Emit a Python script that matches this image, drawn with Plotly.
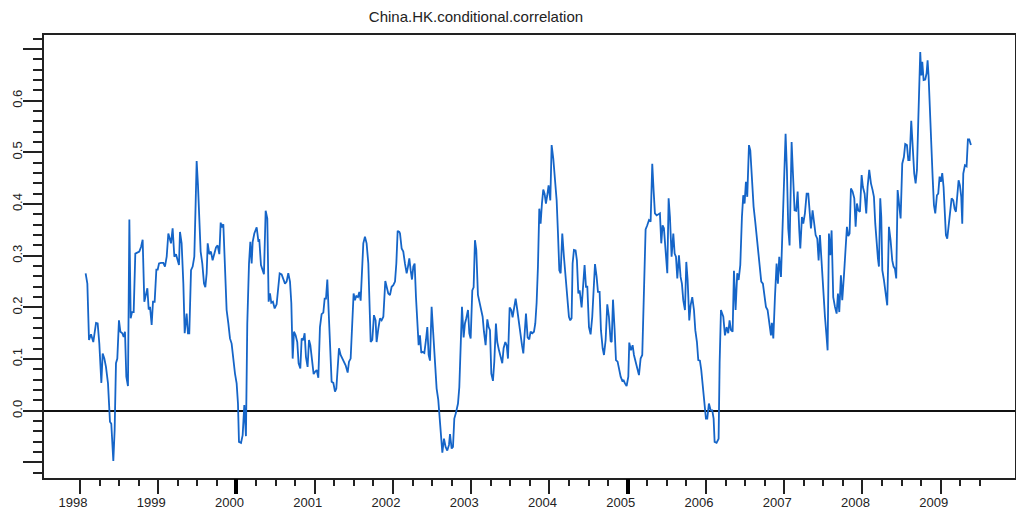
import plotly.graph_objects as go

title_text = "China.HK.conditional.correlation"

# decimal years of each observation
years = [
    1998.072, 1998.094, 1998.115, 1998.141, 1998.170, 1998.205, 1998.226, 1998.247, 1998.273, 1998.290,
    1998.311, 1998.332, 1998.358, 1998.383, 1998.400, 1998.426, 1998.443, 1998.460, 1998.477, 1998.498,
    1998.516, 1998.541, 1998.558, 1998.575, 1998.592, 1998.613, 1998.631, 1998.648, 1998.665, 1998.686,
    1998.707, 1998.733, 1998.758, 1998.780, 1998.801, 1998.822, 1998.839, 1998.861, 1998.878, 1998.895,
    1998.916, 1998.933, 1998.954, 1998.976, 1998.993, 1999.010, 1999.035, 1999.065, 1999.086, 1999.108,
    1999.129, 1999.150, 1999.163, 1999.184, 1999.206, 1999.227, 1999.248, 1999.265, 1999.278, 1999.299,
    1999.321, 1999.338, 1999.363, 1999.380, 1999.397, 1999.419, 1999.440, 1999.461, 1999.478, 1999.491,
    1999.508, 1999.525, 1999.542, 1999.563, 1999.585, 1999.602, 1999.619, 1999.632, 1999.653, 1999.674,
    1999.695, 1999.717, 1999.738, 1999.759, 1999.781, 1999.798, 1999.815, 1999.832, 1999.853, 1999.874,
    1999.896, 1999.917, 1999.938, 1999.960, 1999.981, 2000.002, 2000.019, 2000.032,
    2000.058, 2000.079, 2000.100, 2000.121, 2000.138, 2000.160, 2000.177, 2000.194, 2000.207, 2000.228,
    2000.258, 2000.279, 2000.292, 2000.313, 2000.330, 2000.351, 2000.373, 2000.394, 2000.411, 2000.428,
    2000.445, 2000.466, 2000.488, 2000.513, 2000.535, 2000.552, 2000.577, 2000.599, 2000.620, 2000.641,
    2000.662, 2000.684, 2000.701, 2000.718, 2000.735, 2000.756, 2000.777, 2000.794, 2000.816, 2000.833,
    2000.854, 2000.871, 2000.888, 2000.909, 2000.927, 2000.944, 2000.965, 2000.986, 2001.003, 2001.025,
    2001.046, 2001.067, 2001.088, 2001.110, 2001.127, 2001.144, 2001.161, 2001.178, 2001.195, 2001.216,
    2001.238, 2001.259, 2001.276, 2001.293, 2001.310, 2001.331, 2001.353, 2001.374, 2001.395, 2001.421,
    2001.438, 2001.459, 2001.480, 2001.497, 2001.514, 2001.531, 2001.553, 2001.570, 2001.587, 2001.604,
    2001.621, 2001.642, 2001.663, 2001.685, 2001.706, 2001.715, 2001.736, 2001.757, 2001.778, 2001.791,
    2001.813, 2001.834, 2001.855, 2001.877, 2001.902, 2001.923, 2001.940, 2001.962, 2001.983, 2002.004,
    2002.026, 2002.043, 2002.060, 2002.081,
    2002.090, 2002.111, 2002.132, 2002.153, 2002.175, 2002.192, 2002.209, 2002.226, 2002.243, 2002.260,
    2002.277, 2002.294, 2002.311, 2002.328, 2002.345, 2002.362, 2002.379, 2002.401, 2002.422, 2002.439,
    2002.456, 2002.473, 2002.494, 2002.516, 2002.537, 2002.558, 2002.579, 2002.601, 2002.631, 2002.652,
    2002.673, 2002.694, 2002.716, 2002.729, 2002.750, 2002.767, 2002.784, 2002.805, 2002.831, 2002.848,
    2002.869, 2002.882, 2002.903, 2002.920, 2002.937, 2002.959, 2002.976, 2002.993, 2003.014, 2003.031,
    2003.048, 2003.065, 2003.086, 2003.103, 2003.125, 2003.146, 2003.163, 2003.184, 2003.206, 2003.223,
    2003.240, 2003.257, 2003.278, 2003.295, 2003.316, 2003.333, 2003.355, 2003.376, 2003.397, 2003.414,
    2003.436, 2003.453, 2003.470, 2003.491, 2003.512, 2003.529, 2003.551, 2003.568, 2003.589, 2003.610,
    2003.627, 2003.649, 2003.666, 2003.683, 2003.700, 2003.721, 2003.742, 2003.759, 2003.781, 2003.802,
    2003.819, 2003.836, 2003.853, 2003.870, 2003.887, 2003.904, 2003.921, 2003.938, 2003.955, 2003.972,
    2003.989, 2004.011, 2004.028, 2004.049, 2004.070, 2004.092, 2004.109, 2004.126,
    2004.143, 2004.164, 2004.185, 2004.207, 2004.228, 2004.249, 2004.266, 2004.283, 2004.296, 2004.313,
    2004.334, 2004.351, 2004.369, 2004.386, 2004.411, 2004.428, 2004.449, 2004.467, 2004.484, 2004.505,
    2004.526, 2004.547, 2004.564, 2004.582, 2004.603, 2004.620, 2004.641, 2004.658, 2004.680, 2004.697,
    2004.718, 2004.739, 2004.760, 2004.782, 2004.795, 2004.812, 2004.833, 2004.850, 2004.871, 2004.888,
    2004.910, 2004.931, 2004.948, 2004.965, 2004.986, 2005.008, 2005.020, 2005.042, 2005.063, 2005.080,
    2005.101, 2005.123, 2005.144, 2005.165, 2005.186, 2005.208, 2005.229, 2005.250, 2005.272, 2005.293,
    2005.314, 2005.331, 2005.348, 2005.370, 2005.391, 2005.412, 2005.429, 2005.446, 2005.463, 2005.485,
    2005.506, 2005.523, 2005.540, 2005.561, 2005.583, 2005.600, 2005.617, 2005.634, 2005.655, 2005.676,
    2005.693, 2005.710, 2005.732, 2005.749, 2005.766, 2005.787, 2005.804, 2005.825, 2005.847, 2005.864,
    2005.885, 2005.902, 2005.923, 2005.940, 2005.957, 2005.979, 2006.000, 2006.017, 2006.038, 2006.060,
    2006.081, 2006.098, 2006.111, 2006.136, 2006.162, 2006.175,
    2006.192, 2006.222, 2006.243, 2006.264, 2006.285, 2006.302, 2006.320, 2006.341, 2006.358, 2006.379,
    2006.400, 2006.418, 2006.439, 2006.460, 2006.477, 2006.494, 2006.511, 2006.528, 2006.550, 2006.567,
    2006.588, 2006.609, 2006.630, 2006.652, 2006.673, 2006.690, 2006.707, 2006.728, 2006.746, 2006.767,
    2006.788, 2006.809, 2006.831, 2006.843, 2006.861, 2006.882, 2006.903, 2006.920, 2006.937, 2006.959,
    2006.971, 2006.988, 2007.005, 2007.018, 2007.035, 2007.052, 2007.069, 2007.082, 2007.095, 2007.112,
    2007.133, 2007.154, 2007.172, 2007.193, 2007.206, 2007.227, 2007.244, 2007.265, 2007.287, 2007.308,
    2007.329, 2007.342, 2007.363, 2007.380, 2007.402, 2007.423, 2007.440, 2007.457, 2007.478, 2007.500,
    2007.521, 2007.542, 2007.555, 2007.572, 2007.589, 2007.606, 2007.627, 2007.649, 2007.670, 2007.687,
    2007.704, 2007.725, 2007.742, 2007.764, 2007.785, 2007.802, 2007.819, 2007.836, 2007.853, 2007.874,
    2007.896, 2007.913, 2007.930, 2007.947, 2007.968, 2007.990, 2008.006, 2008.028, 2008.049, 2008.066,
    2008.087, 2008.109, 2008.130, 2008.147, 2008.164, 2008.181, 2008.198, 2008.211, 2008.228, 2008.241,
    2008.254, 2008.275, 2008.296, 2008.317, 2008.339,
    2008.360, 2008.381, 2008.398, 2008.415, 2008.432, 2008.450, 2008.471, 2008.488, 2008.509, 2008.530,
    2008.547, 2008.569, 2008.586, 2008.603, 2008.624, 2008.645, 2008.662, 2008.680, 2008.697, 2008.714,
    2008.726, 2008.739, 2008.752, 2008.765, 2008.782, 2008.803, 2008.820, 2008.833, 2008.846, 2008.863,
    2008.880, 2008.897, 2008.914, 2008.931, 2008.952, 2008.969, 2008.986, 2009.003, 2009.020, 2009.037,
    2009.054, 2009.067, 2009.084, 2009.101, 2009.118, 2009.140, 2009.161, 2009.178, 2009.195, 2009.212,
    2009.229, 2009.246, 2009.263, 2009.276, 2009.289, 2009.310, 2009.331, 2009.348, 2009.365, 2009.387,
]

# conditional correlation values
corr = [
    0.266, 0.246, 0.137, 0.148, 0.133, 0.170, 0.169, 0.130, 0.054, 0.111,
    0.101, 0.085, 0.053, -0.021, -0.025, -0.097, -0.037, 0.092, 0.101, 0.175,
    0.153, 0.150, 0.143, 0.153, 0.066, 0.048, 0.370, 0.179, 0.191, 0.191,
    0.304, 0.306, 0.308, 0.317, 0.331, 0.211, 0.224, 0.237, 0.196, 0.201,
    0.166, 0.211, 0.211, 0.273, 0.273, 0.285, 0.286, 0.286, 0.279, 0.298,
    0.343, 0.333, 0.324, 0.353, 0.298, 0.303, 0.291, 0.282, 0.346, 0.324,
    0.246, 0.150, 0.188, 0.150, 0.150, 0.272, 0.279, 0.298, 0.401, 0.483,
    0.436, 0.375, 0.308, 0.285, 0.246, 0.239, 0.266, 0.324, 0.303, 0.308,
    0.291, 0.304, 0.316, 0.320, 0.303, 0.364, 0.355, 0.361, 0.285, 0.195,
    0.169, 0.140, 0.130, 0.092, 0.072, 0.053, 0.014, -0.060,
    -0.062, -0.047, 0.011, -0.049, 0.169, 0.285, 0.327, 0.285, 0.327, 0.343,
    0.355, 0.329, 0.330, 0.282, 0.275, 0.264, 0.387, 0.372, 0.211, 0.227,
    0.209, 0.211, 0.198, 0.206, 0.240, 0.266, 0.264, 0.254, 0.246, 0.250,
    0.266, 0.250, 0.208, 0.101, 0.153, 0.146, 0.133, 0.092, 0.082, 0.140,
    0.137, 0.150, 0.104, 0.085, 0.137, 0.127, 0.098, 0.071, 0.075, 0.079,
    0.064, 0.162, 0.187, 0.190, 0.217, 0.217, 0.254, 0.201, 0.137, 0.056,
    0.054, 0.037, 0.043, 0.085, 0.121, 0.108, 0.101, 0.095, 0.088, 0.074,
    0.095, 0.101, 0.172, 0.227, 0.214, 0.222, 0.220, 0.230, 0.213, 0.272,
    0.324, 0.337, 0.324, 0.285, 0.201, 0.133, 0.137, 0.185, 0.175, 0.133,
    0.159, 0.179, 0.175, 0.182, 0.251, 0.240, 0.227, 0.224, 0.240, 0.243,
    0.250, 0.285, 0.348, 0.346,
    0.343, 0.314, 0.308, 0.285, 0.266, 0.279, 0.295, 0.272, 0.254, 0.279,
    0.285, 0.220, 0.175, 0.127, 0.146, 0.112, 0.114, 0.112, 0.137, 0.162,
    0.108, 0.097, 0.201, 0.150, 0.098, 0.043, 0.021, -0.031, -0.081, -0.054,
    -0.070, -0.077, -0.066, -0.045, -0.073, -0.070, -0.015, -0.004, 0.014, 0.046,
    0.143, 0.201, 0.142, 0.169, 0.179, 0.195, 0.150, 0.140, 0.233, 0.239,
    0.330, 0.311, 0.224, 0.211, 0.198, 0.182, 0.153, 0.127, 0.177, 0.162,
    0.156, 0.072, 0.058, 0.095, 0.169, 0.133, 0.117, 0.106, 0.092, 0.121,
    0.133, 0.127, 0.101, 0.200, 0.195, 0.181, 0.201, 0.217, 0.195, 0.169,
    0.146, 0.127, 0.111, 0.153, 0.188, 0.142, 0.138, 0.153, 0.150, 0.153,
    0.169, 0.209, 0.279, 0.391, 0.362, 0.401, 0.428, 0.420, 0.401, 0.417,
    0.436, 0.407, 0.514, 0.488, 0.453, 0.407, 0.343, 0.272,
    0.266, 0.343, 0.298, 0.253, 0.214, 0.182, 0.175, 0.179, 0.285, 0.311,
    0.310, 0.291, 0.227, 0.233, 0.200, 0.246, 0.282, 0.240, 0.240, 0.162,
    0.148, 0.182, 0.246, 0.284, 0.259, 0.230, 0.230, 0.156, 0.121, 0.108,
    0.137, 0.206, 0.182, 0.135, 0.133, 0.215, 0.156, 0.098, 0.095, 0.082,
    0.066, 0.058, 0.059, 0.053, 0.048, 0.066, 0.132, 0.117, 0.127, 0.108,
    0.092, 0.082, 0.069, 0.101, 0.108, 0.246, 0.351, 0.359, 0.369, 0.366,
    0.478, 0.427, 0.382, 0.378, 0.380, 0.382, 0.324, 0.359, 0.353, 0.311,
    0.266, 0.411, 0.375, 0.298, 0.343, 0.304, 0.298, 0.256, 0.301, 0.259,
    0.246, 0.214, 0.195, 0.288, 0.253, 0.175, 0.204, 0.220, 0.195, 0.156,
    0.133, 0.098, 0.097, 0.079, 0.053, 0.021, -0.015, -0.015, 0.014, 0.001,
    0.001, -0.015, -0.060, -0.062, -0.054, 0.092,
    0.195, 0.182, 0.146, 0.162, 0.150, 0.175, 0.156, 0.153, 0.271, 0.195,
    0.266, 0.253, 0.282, 0.375, 0.417, 0.401, 0.443, 0.414, 0.514, 0.504,
    0.446, 0.395, 0.366, 0.330, 0.311, 0.279, 0.250, 0.246, 0.224, 0.201,
    0.195, 0.169, 0.146, 0.170, 0.140, 0.220, 0.285, 0.246, 0.298, 0.259,
    0.314, 0.401, 0.491, 0.536, 0.465, 0.353, 0.320, 0.401, 0.520, 0.459,
    0.388, 0.387, 0.424, 0.349, 0.314, 0.375, 0.362, 0.382, 0.420, 0.420,
    0.385, 0.353, 0.388, 0.366, 0.340, 0.333, 0.291, 0.340, 0.285, 0.233,
    0.182, 0.143, 0.117, 0.343, 0.301, 0.349, 0.220, 0.201, 0.188, 0.227,
    0.191, 0.262, 0.214, 0.262, 0.317, 0.356, 0.338, 0.343, 0.430, 0.424,
    0.411, 0.356, 0.401, 0.388, 0.385, 0.456, 0.433, 0.420, 0.382, 0.433,
    0.466, 0.440, 0.427, 0.414, 0.362, 0.317, 0.295, 0.279, 0.411, 0.375,
    0.272, 0.253, 0.233, 0.204, 0.356,
    0.330, 0.291, 0.279, 0.275, 0.256, 0.427, 0.401, 0.372, 0.478, 0.491,
    0.516, 0.514, 0.485, 0.485, 0.561, 0.511, 0.459, 0.440, 0.466, 0.562,
    0.633, 0.694, 0.649, 0.675, 0.640, 0.641, 0.653, 0.678, 0.646, 0.594,
    0.517, 0.453, 0.398, 0.382, 0.417, 0.420, 0.453, 0.443, 0.460, 0.433,
    0.388, 0.340, 0.333, 0.356, 0.388, 0.411, 0.407, 0.391, 0.385, 0.420,
    0.446, 0.436, 0.414, 0.362, 0.459, 0.475, 0.473, 0.525, 0.525, 0.514,
]

year_ticks = list(range(1998, 2010))
year_labels = [str(y) for y in year_ticks]
bold_year_ticks = [2000, 2005]
quarter_ticks = [y + q for y in range(1998, 2010) for q in (0.25, 0.5, 0.75) if y + q <= 2009.5]

y_ticks = [-0.1, 0.0, 0.1, 0.2, 0.3, 0.4, 0.5, 0.6, 0.7]
y_labels = ["", "0.0", "0.1", "0.2", "0.3", "0.4", "0.5", "0.6", ""]
y_minor = [round(-0.12 + 0.02 * i, 2) for i in range(43)]
y_minor = [v for v in y_minor if abs(v * 10 - round(v * 10)) > 1e-6]

FONT = "Liberation Sans, Arial, sans-serif"
INK = "#222222"
X_RANGE = [1997.54, 2009.95]

# the page body adds an 8px margin, so the figure is sized for what remains
W, H = 1016, 513

fig = go.Figure()
fig.add_trace(go.Scatter(
    x=years, y=corr, mode="lines",
    line=dict(color="#1565c8", width=1.8),
    showlegend=False, hoverinfo="x+y",
))
# empty trace so the overlay axis with the heavy ticks gets drawn
fig.add_trace(go.Scatter(x=[], y=[], xaxis="x2", showlegend=False, hoverinfo="skip"))

fig.update_layout(
    width=W, height=H, autosize=False,
    margin=dict(l=36, r=9, t=27, b=43, pad=0),
    paper_bgcolor="white", plot_bgcolor="white",
    showlegend=False,
    title=dict(
        text=title_text, x=468 / W, xref="container", xanchor="center",
        y=1 - 9 / H, yref="container", yanchor="middle",
        font=dict(family=FONT, size=15, color=INK),
    ),
    xaxis=dict(
        range=X_RANGE, showgrid=False, zeroline=False, automargin=False,
        showline=True, mirror=True, linecolor=INK, linewidth=1.5,
        ticks="outside", tickmode="array", tickvals=year_ticks, ticktext=year_labels,
        ticklen=14, tickwidth=1.5, tickcolor=INK,
        ticklabelshift=-7, ticklabelstandoff=-2,
        tickfont=dict(family=FONT, size=13, color=INK),
        minor=dict(tickmode="array", tickvals=quarter_ticks, ticks="outside",
                   ticklen=6, tickwidth=1.5, tickcolor=INK, showgrid=False),
    ),
    xaxis2=dict(
        range=X_RANGE, overlaying="x", anchor="y", side="bottom", automargin=False,
        showgrid=False, zeroline=False, showline=False,
        ticks="outside", tickmode="array", tickvals=bold_year_ticks,
        ticklen=15, tickwidth=4, tickcolor="#000000", showticklabels=False,
    ),
    yaxis=dict(
        range=[-0.13, 0.727], showgrid=False, automargin=False,
        zeroline=True, zerolinecolor="#111111", zerolinewidth=1.5,
        showline=True, mirror=True, linecolor=INK, linewidth=1.5,
        ticks="outside", tickmode="array", tickvals=y_ticks, ticktext=y_labels,
        ticklen=19, tickwidth=1.5, tickcolor=INK, tickangle=-90,
        ticklabelstandoff=-4,
        tickfont=dict(family=FONT, size=13, color=INK),
        minor=dict(tickmode="array", tickvals=y_minor, ticks="outside",
                   ticklen=9, tickwidth=1.5, tickcolor=INK, showgrid=False),
    ),
)

fig.write_html("out.html")
